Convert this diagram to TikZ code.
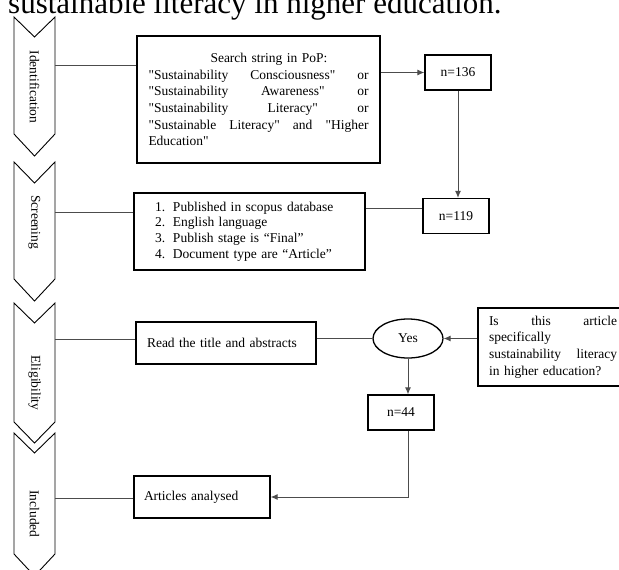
\documentclass[tikz,border=0pt]{standalone}
\usepackage{fontspec}
\setmainfont{Liberation Serif}[Ligatures=TeXOff]
\usetikzlibrary{shapes,arrows.meta,positioning,calc}

\begin{document}
\begin{tikzpicture}[x=1pt, y=-1pt,
    box/.style={draw, line width=1.3pt, rectangle, inner sep=0pt, font=\fontsize{13.5}{16.7}\selectfont},
    stage/.style={rotate=-90, inner sep=0pt, font=\fontsize{13.5}{16}\selectfont},
    chev/.style={draw, line width=0.9pt, fill=white},
    link/.style={draw=black!70, line width=0.9pt},
    >={Latex[length=7pt,width=6pt]}]
    \useasboundingbox (0,0) rectangle (619,570);
    \clip (0,0) rectangle (619,570);

    % caption line, cut at the top
    \node[anchor=base west, inner sep=0pt, font=\fontsize{31}{31}\selectfont] (caption) at (8,13) {sustainable literacy in higher education.};

    % Stage chevrons (left)
    \draw[chev] (14,17) -- (34.5,37) -- (55,17) -- (55,134) -- (34.5,156) -- (14,134) -- cycle;
    \node[stage] (ident) at (34.5,87) {Identification};
    \draw[chev] (14,162) -- (34.5,183) -- (55,162) -- (55,279) -- (34.5,301) -- (14,279) -- cycle;
    \node[stage] (scr) at (34.5,222) {Screening};
    \draw[chev] (14,303) -- (34.5,323) -- (55,303) -- (55,422) -- (34.5,443) -- (14,422) -- cycle;
    \node[stage] (elig) at (34.5,383) {Eligibility};
    \draw[chev] (14,433) -- (34.5,453) -- (55,433) -- (55,554) -- (34.5,576) -- (14,554) -- cycle;
    \node[stage] (incl) at (34.5,514) {Included};
    \coordinate (identR) at (55,65);
    \coordinate (scrR) at (55,212);
    \coordinate (eligR) at (55,339);
    \coordinate (inclR) at (55,498);

    % Main boxes
    \node[box, minimum width=243pt, minimum height=127pt, text width=220pt, align=left] (search) at (258.5,99.5)
        {\hspace*{62pt}Search string in PoP:\\
         "Sustainability\hfill Consciousness"\hfill or\\
         "Sustainability\hfill Awareness"\hfill or\\
         "Sustainability\hfill Literacy"\hfill or\\
         "Sustainable\hfill Literacy"\hfill and\hfill "Higher\\
         Education"};
    \node[box, minimum width=231pt, minimum height=77pt, text width=189pt, align=left,
          font=\fontsize{13.5}{15.7}\selectfont] (screen) at (249.5,231.5)
        {\makebox[18pt][l]{1.}Published in scopus database\\
         \makebox[18pt][l]{2.}English language\\
         \makebox[18pt][l]{3.}Publish stage is “Final”\\
         \makebox[18pt][l]{4.}Document type are “Article”};
    \node[box, minimum width=180pt, minimum height=42pt, text width=158pt, align=left] (read) at (226,343) {Read the title and abstracts};
    \node[box, minimum width=136pt, minimum height=42pt, text width=116pt, align=left] (art) at (202,497) {Articles analysed};

    % Counts and decision
    \node[box, minimum width=66pt, minimum height=35pt] (n136) at (458,72.5) {n=136};
    \node[box, minimum width=66pt, minimum height=35pt] (n119) at (456,216) {n=119};
    \node[box, ellipse, minimum width=70pt, minimum height=39pt] (yes) at (408,338.5) {Yes};
    \node[box, minimum width=66pt, minimum height=35pt] (n44) at (401,412.5) {n=44};
    \node[box, minimum width=150pt, minimum height=78pt, text width=128pt, align=left] (quest) at (553,347)
        {Is\hfill this\hfill article\\
         specifically\\
         sustainability\hfill literacy\\
         in higher education?};

    % Connectors
    \draw[link] (identR) -- (identR -| search.west);
    \draw[link] (scrR) -- (scrR -| screen.west);
    \draw[link] (eligR) -- (eligR -| read.west);
    \draw[link] (inclR) -- (inclR -| art.west);
    \draw[link, ->] (search.east |- n136.west) -- (n136.west);
    \draw[link, ->] (n136.south) -- (n136.south |- n119.north);
    \draw[link] ([yshift=8pt]n119.west) -- ([yshift=8pt]n119.west -| screen.east);
    \draw[link] (read.east |- yes.west) -- (yes.west);
    \draw[link, ->] (quest.west |- yes.east) -- (yes.east);
    \draw[link, ->] (yes.south) -- (yes.south |- n44.north);
    \draw[link, ->] ([xshift=7pt]n44.south) |- (art.east);
\end{tikzpicture}
\end{document}
